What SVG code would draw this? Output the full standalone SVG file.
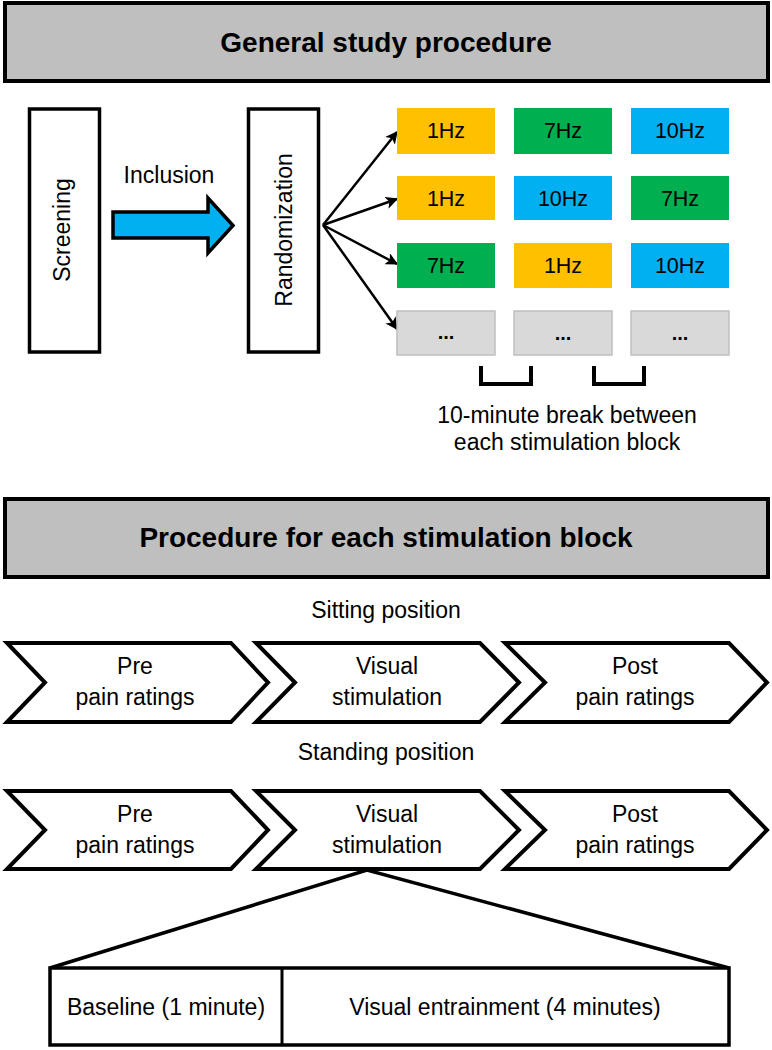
<svg xmlns="http://www.w3.org/2000/svg" width="772" height="1050" viewBox="0 0 772 1050">
<defs>
<marker id="ah" viewBox="0 0 10 10" refX="9" refY="5" markerWidth="5" markerHeight="5" orient="auto" markerUnits="strokeWidth">
<path d="M0,0 L10,5 L0,10 L2.5,5 Z" fill="#000"/>
</marker>
<style>
text{font-family:"Liberation Sans",Arial,sans-serif;fill:#000;text-anchor:middle}
.hdr{fill:#BFBFBF;stroke:#000;stroke-width:4}
.ht{font-size:28px;font-weight:bold}
.t{font-size:23px}
.hz{font-size:21.5px}
.dots{font-size:20px;font-weight:bold}
.vbox{fill:#fff;stroke:#000;stroke-width:3.5}
.chev{fill:#fff;stroke:#000;stroke-width:4;stroke-linejoin:miter}
.y{fill:#FFC000}
.g{fill:#00B050}
.b{fill:#00B0F0}
.gr{fill:#D9D9D9;stroke:#BFBFBF;stroke-width:1.5}
.ln{stroke:#000;stroke-width:2.5;fill:none}
.br{stroke:#000;stroke-width:4;fill:none}
</style>
</defs>

<g id="header1">
<rect class="hdr" x="5" y="3" width="763" height="78"/>
<text class="ht" x="386" y="52">General study procedure</text>
</g>

<g id="screening">
<rect class="vbox" x="29.5" y="109" width="70" height="243"/>
<text class="t" transform="translate(70,230) rotate(-90)">Screening</text>
</g>

<g id="inclusion">
<text class="t" x="169" y="183">Inclusion</text>
<polygon points="113,212 208,212 208,198 233,225.5 208,253 208,238 113,238" fill="#00B0F0" stroke="#000" stroke-width="3.5" stroke-linejoin="miter"/>
</g>

<g id="randomization">
<rect class="vbox" x="248.5" y="109" width="70" height="243"/>
<text class="t" transform="translate(292,230) rotate(-90)">Randomization</text>
</g>

<g id="connectors">
<line class="ln" x1="323" y1="225" x2="397" y2="132" marker-end="url(#ah)"/>
<line class="ln" x1="323" y1="225" x2="397" y2="199" marker-end="url(#ah)"/>
<line class="ln" x1="323" y1="225" x2="397" y2="264" marker-end="url(#ah)"/>
<line class="ln" x1="323" y1="225" x2="397" y2="329" marker-end="url(#ah)"/>
</g>

<g id="row1">
<rect class="y" x="397" y="108" width="98" height="46"/><text class="hz" x="446" y="138">1Hz</text>
<rect class="g" x="514" y="108" width="98" height="46"/><text class="hz" x="563" y="138">7Hz</text>
<rect class="b" x="631" y="108" width="98" height="46"/><text class="hz" x="680" y="138">10Hz</text>
</g>
<g id="row2">
<rect class="y" x="397" y="176" width="98" height="44"/><text class="hz" x="446" y="206">1Hz</text>
<rect class="b" x="514" y="176" width="98" height="44"/><text class="hz" x="563" y="206">10Hz</text>
<rect class="g" x="631" y="176" width="98" height="44"/><text class="hz" x="680" y="206">7Hz</text>
</g>
<g id="row3">
<rect class="g" x="397" y="243" width="98" height="45"/><text class="hz" x="446" y="273">7Hz</text>
<rect class="y" x="514" y="243" width="98" height="45"/><text class="hz" x="563" y="273">1Hz</text>
<rect class="b" x="631" y="243" width="98" height="45"/><text class="hz" x="680" y="273">10Hz</text>
</g>
<g id="row4">
<rect class="gr" x="397" y="311" width="98" height="44"/><text class="dots" x="446" y="339">...</text>
<rect class="gr" x="514" y="311" width="98" height="44"/><text class="dots" x="563" y="340">...</text>
<rect class="gr" x="631" y="311" width="98" height="44"/><text class="dots" x="680" y="340">...</text>
</g>

<g id="breaks">
<path class="br" d="M481,366 V384 H531 V366"/>
<path class="br" d="M594,366 V384 H644 V366"/>
<text class="t" x="567" y="423">10-minute break between</text>
<text class="t" x="567" y="450">each stimulation block</text>
</g>

<g id="header2">
<rect class="hdr" x="5" y="499" width="763" height="78"/>
<text class="ht" x="386" y="547">Procedure for each stimulation block</text>
</g>

<g id="sitting">
<text class="t" x="386" y="618">Sitting position</text>
<polygon class="chev" points="7,643 231,643 268,682.5 231,722 7,722 45,682.5"/>
<text class="t" x="135" y="674">Pre</text><text class="t" x="135" y="705">pain ratings</text>
<polygon class="chev" points="256,643 480,643 519,682.5 480,722 256,722 295,682.5"/>
<text class="t" x="387" y="674">Visual</text><text class="t" x="387" y="705">stimulation</text>
<polygon class="chev" points="505,643 729,643 767,682.5 729,722 505,722 545,682.5"/>
<text class="t" x="635" y="674">Post</text><text class="t" x="635" y="705">pain ratings</text>
</g>

<g id="standing">
<text class="t" x="386" y="760">Standing position</text>
<polygon class="chev" points="7,791 231,791 268,830 231,869 7,869 45,830"/>
<text class="t" x="135" y="822">Pre</text><text class="t" x="135" y="853">pain ratings</text>
<polygon class="chev" points="256,791 480,791 519,830 480,869 256,869 295,830"/>
<text class="t" x="387" y="822">Visual</text><text class="t" x="387" y="853">stimulation</text>
<polygon class="chev" points="505,791 729,791 767,830 729,869 505,869 545,830"/>
<text class="t" x="635" y="822">Post</text><text class="t" x="635" y="853">pain ratings</text>
</g>

<g id="detail">
<path d="M50,968 L367,870 L729,968" fill="none" stroke="#000" stroke-width="3.5" stroke-linejoin="miter"/>
<rect x="50" y="968" width="679" height="77" fill="#fff" stroke="#000" stroke-width="3.5"/>
<line x1="282" y1="968" x2="282" y2="1045" stroke="#000" stroke-width="3"/>
<text class="t" x="166" y="1015">Baseline (1 minute)</text>
<text class="t" x="505" y="1015">Visual entrainment (4 minutes)</text>
</g>
</svg>
